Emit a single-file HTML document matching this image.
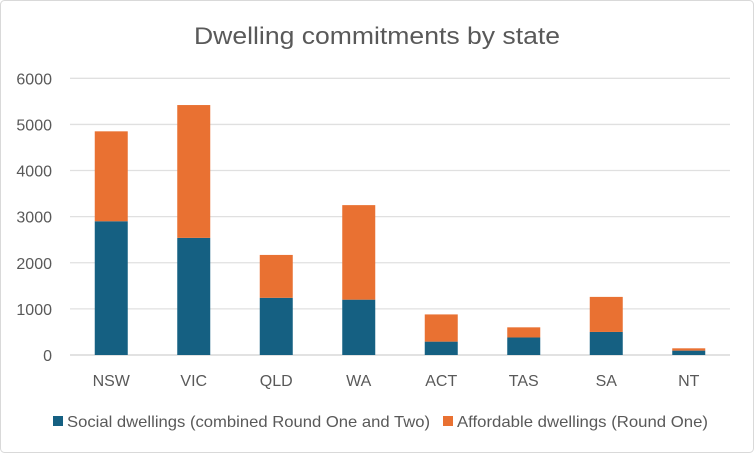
<!DOCTYPE html>
<html><head><meta charset="utf-8"><style>
html,body{margin:0;padding:0;background:#fff;}
svg{display:block;font-family:"Liberation Sans",sans-serif;}
</style></head><body>
<svg id="chart" width="754" height="453" viewBox="0 0 754 453" xmlns="http://www.w3.org/2000/svg">
<rect x="0.5" y="0.5" width="753" height="452" rx="4" fill="#fff" stroke="#d9d9d9"/>
<text x="377" y="44" text-anchor="middle" font-size="24" fill="#595959" textLength="366" lengthAdjust="spacingAndGlyphs">Dwelling commitments by state</text>
<g id="grid"></g><g id="bars"></g><g id="labels"></g>
<g>
<rect x="53" y="416" width="10" height="10" fill="#156082"/>
<text x="67" y="427" font-size="16" fill="#595959" textLength="363" lengthAdjust="spacingAndGlyphs">Social dwellings (combined Round One and Two)</text>
<rect x="443" y="416" width="10" height="10" fill="#e97132"/>
<text x="457" y="427" font-size="16" fill="#595959" textLength="251" lengthAdjust="spacingAndGlyphs">Affordable dwellings (Round One)</text>
</g>
</svg>
<script>
const categories=["NSW","VIC","QLD","WA","ACT","TAS","SA","NT"];
const socialValues=[2900,2540,1240,1200,290,380,500,95];
const affordableValues=[1950,2880,930,2050,590,220,760,50];
const yTicks=[0,1000,2000,3000,4000,5000,6000];
const NS="http://www.w3.org/2000/svg";
const x0=70,x1=730,yBase=355,yTop=78.3,yMax=6000;
const band=(x1-x0)/categories.length, barW=33;
const y=v=>yBase-(v/yMax)*(yBase-yTop);
const xc=i=>x0+band*(i+0.5);
function mk(tag,attrs,parent){const e=document.createElementNS(NS,tag);for(const k in attrs)e.setAttribute(k,attrs[k]);parent.appendChild(e);return e;}
const grid=document.getElementById('grid'),bars=document.getElementById('bars'),labels=document.getElementById('labels');
yTicks.forEach(t=>{
  const l=mk('line',{x1:x0,x2:x1,y1:y(t),y2:y(t),stroke:t===0?'#d0d0d0':'#e0e0e0','stroke-width':1.3},grid);
  
  
  const tx=mk('text',{x:52,y:y(t)+6,'text-anchor':'end','font-size':16,fill:'#595959'},labels);
  
  
  tx.textContent=t;
});
categories.forEach((c,i)=>{
  const s=socialValues[i],a=affordableValues[i];
  const r1=mk('rect',{x:xc(i)-barW/2,y:y(s),width:barW,height:yBase-y(s),fill:'#156082'},bars);
  
  
  const r2=mk('rect',{x:xc(i)-barW/2,y:y(s+a),width:barW,height:y(s)-y(s+a),fill:'#e97132'},bars);
  
  
  const tx=mk('text',{x:xc(i),y:386,'text-anchor':'middle','font-size':16,fill:'#595959'},labels);
  
  
  tx.textContent=c;
});
</script>
</body></html>
